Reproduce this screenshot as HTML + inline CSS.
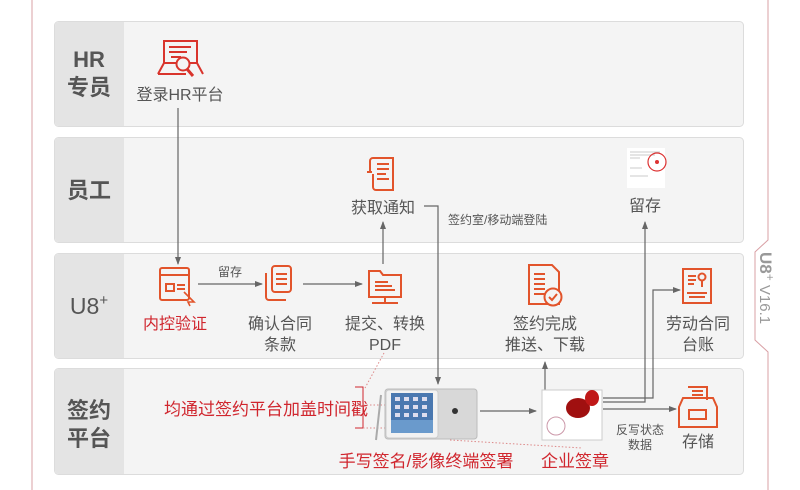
<!DOCTYPE html>
<html><head><meta charset="utf-8"><style>
body{margin:0;background:#fff;}
svg{display:block;font-family:"Liberation Sans","Noto Sans CJK SC",sans-serif;}
</style></head><body>
<svg width="800" height="490" viewBox="0 0 800 490" xmlns="http://www.w3.org/2000/svg">
<defs>
<marker id="ar" markerWidth="8" markerHeight="8" refX="7" refY="4" orient="auto" markerUnits="userSpaceOnUse"><path d="M0,1 L8,4 L0,7 Z" fill="#666"/></marker>
</defs>
<path d="M32,0 V490" stroke="#d9a0a5" stroke-width="1" fill="none"/>
<path d="M768,0 V240 L755,252 V340 L768,352 V490" stroke="#d9a0a5" stroke-width="1" fill="none"/>
<text transform="translate(760,252) rotate(90)" font-size="15" fill="#999"><tspan font-weight="bold" font-size="17">U8</tspan><tspan font-size="12" dy="-6">+</tspan><tspan dy="6"> V16.1</tspan></text>

<g stroke="#dcdcdc" stroke-width="1">
<rect x="54.5" y="21.5" width="689" height="105" rx="4" fill="#f4f4f4"/>
<rect x="54.5" y="137.5" width="689" height="105" rx="4" fill="#f4f4f4"/>
<rect x="54.5" y="253.5" width="689" height="105" rx="4" fill="#f4f4f4"/>
<rect x="54.5" y="368.5" width="689" height="106" rx="4" fill="#f4f4f4"/>
</g>
<g fill="#e4e4e4">
<path d="M55,26 a4,4 0 0 1 4,-4 H124 V126 H59 a4,4 0 0 1 -4,-4Z"/>
<path d="M55,142 a4,4 0 0 1 4,-4 H124 V242 H59 a4,4 0 0 1 -4,-4Z"/>
<path d="M55,258 a4,4 0 0 1 4,-4 H124 V358 H59 a4,4 0 0 1 -4,-4Z"/>
<path d="M55,373 a4,4 0 0 1 4,-4 H124 V474 H59 a4,4 0 0 1 -4,-4Z"/>
</g>
<g font-size="22" font-weight="bold" fill="#555" text-anchor="middle">
<text x="89" y="67">HR</text>
<text x="89" y="95">专员</text>
<text x="89" y="198">员工</text>
<text x="89" y="314" font-weight="normal" font-size="23">U8<tspan font-size="15" dy="-9">+</tspan></text>
<text x="89" y="418">签约</text>
<text x="89" y="446">平台</text>
</g>

<g font-size="16" fill="#555" text-anchor="middle">
<text x="180" y="100">登录HR平台</text>
<text x="383" y="213">获取通知</text>
<text x="645" y="211">留存</text>
<text x="175" y="329" fill="#d0262e">内控验证</text>
<text x="280" y="329">确认合同</text>
<text x="280" y="350">条款</text>
<text x="385" y="329">提交、转换</text>
<text x="385" y="350">PDF</text>
<text x="545" y="329">签约完成</text>
<text x="545" y="350">推送、下载</text>
<text x="698" y="329">劳动合同</text>
<text x="698" y="350">台账</text>
<text x="698" y="447">存储</text>
</g>
<g font-size="12" fill="#555">
<text x="448" y="224">签约室/移动端登陆</text>
<text x="218" y="276">留存</text>
<text x="640" y="434" text-anchor="middle">反写状态</text>
<text x="640" y="449" text-anchor="middle">数据</text>
</g>
<g font-size="17" fill="#d0262e" text-anchor="middle">
<text x="266" y="415">均通过签约平台加盖时间戳</text>
<text x="426" y="467">手写签名/影像终端签署</text>
<text x="575" y="467">企业签章</text>
</g>

<g stroke="#666" stroke-width="1.2" fill="none" marker-end="url(#ar)">
<path d="M178,108 V264"/>
<path d="M198,284 H262"/>
<path d="M303,284 H362"/>
<path d="M383,264 V222"/>
<path d="M424,206 H438 V384"/>
<path d="M480,411 H536"/>
<path d="M545,390 V362"/>
<path d="M603,398 H653 V290 H680"/>
<path d="M603,402 H645 V222"/>
<path d="M603,409 H676"/>
</g>
<path d="M355,387 H363 V428 H355" stroke="#d0262e" stroke-width="1" fill="none"/>
<g stroke="#d88" stroke-width="1" stroke-dasharray="1.5,2" fill="none">
<path d="M384,353 L365,388"/>
<path d="M363,405 H388"/>
<path d="M363,428 H388"/>
<path d="M450,440 L582,448"/>
</g>

<g stroke="#e2542b" stroke-width="2" fill="none">
<path d="M164,41 H197 V63 H164 Z M158,74 L164,63 M203,74 L197,63 M158,74 H186" stroke="#d9342c"/>
<path d="M169,47 H191 M169,52 H187 M171,57 H181" stroke="#d9342c"/>
<circle cx="183" cy="64" r="6.5" stroke="#d9342c" fill="#f4f4f4"/>
<path d="M187,69 L193,76" stroke="#d9342c" stroke-width="3"/>
<path d="M373,158 H393 V190 H376 a3,3 0 0 1 -3,-3 V174 M372,172 H367 M373,158 a3,3 0 0 0 -3,3 V172"/>
<path d="M377,164 H389 M377,169 H389 M377,174 H386 M377,179 H389"/>
<rect x="160" y="268" width="29" height="32" rx="2"/>
<path d="M160,275 H189"/>
<rect x="166" y="284" width="8" height="7"/><path d="M177,285 H185 M177,289 H185"/>
<path d="M184,292 L194,302 L188,302 L190,306" stroke-width="1.6"/>
<rect x="272" y="266" width="19" height="26" rx="3"/>
<path d="M266,273 V297 a3,3 0 0 0 3,3 H286"/>
<path d="M276,274 H287 M276,279 H287 M276,284 H287"/>
<path d="M369,271 H380 L383,275 H401 V297 H369 Z"/>
<path d="M375,282 H388 M375,286 H392 M375,290 H395"/>
<path d="M385,297 V303 M372,303 H398"/>
<path d="M529,265 H552 L559,272 V304 H529 Z"/>
<path d="M534,274 H545 M534,279 H545 M534,284 H545 M534,289 H545 M534,294 H545"/>
<circle cx="553" cy="297" r="8.5" fill="#f4f4f4"/>
<path d="M549,297 L552,300 L557,294"/>
<rect x="683" y="269" width="28" height="34"/>
<path d="M688,276 H696 M688,280 H696 M688,284 H694 M687,293 H707 M689,297 H705"/>
<circle cx="702" cy="277" r="3.5"/><path d="M702,281 V287"/>
<path d="M679,407 L683,398 H713 L717,407 V427 H679 Z"/>
<path d="M688,387 H707 V400 M692,391 H703 M692,395 H703"/>
<rect x="689" y="410" width="17" height="9"/>
</g>

<rect x="627" y="148" width="38" height="40" fill="#fff"/>
<g stroke="#bbb" stroke-width="0.8"><path d="M630,152 H660 M630,155 H655 M630,158 H640 M630,168 H642 M630,176 H648"/></g>
<circle cx="657" cy="162" r="9" fill="none" stroke="#d33" stroke-width="1.2"/>
<circle cx="657" cy="162" r="2" fill="#d33"/>

<path d="M381,395 L376,440" stroke="#aaa" stroke-width="2"/>
<rect x="385" y="389" width="92" height="50" rx="3" fill="#d8d8d8" stroke="#bbb"/>
<rect x="386" y="390" width="52" height="48" rx="3" fill="#f2f2f2" stroke="#ccc"/>
<rect x="391" y="393" width="42" height="40" fill="#4a78b0"/>
<rect x="391" y="420" width="42" height="13" fill="#6a9acc"/>
<g fill="#dde">
<rect x="395" y="397" width="5" height="4"/><rect x="404" y="397" width="5" height="4"/><rect x="413" y="397" width="5" height="4"/><rect x="422" y="397" width="5" height="4"/>
<rect x="395" y="405" width="5" height="4"/><rect x="404" y="405" width="5" height="4"/><rect x="413" y="405" width="5" height="4"/><rect x="422" y="405" width="5" height="4"/>
<rect x="395" y="413" width="5" height="4"/><rect x="404" y="413" width="5" height="4"/><rect x="413" y="413" width="5" height="4"/><rect x="422" y="413" width="5" height="4"/>
</g>
<circle cx="455" cy="411" r="3" fill="#333"/>

<rect x="542" y="390" width="60" height="50" fill="#fff" stroke="#ccc"/>
<circle cx="556" cy="426" r="9" fill="none" stroke="#c9a" stroke-width="1"/>
<ellipse cx="578" cy="408" rx="12" ry="10" fill="#a01010"/>
<ellipse cx="592" cy="398" rx="7" ry="8" fill="#c01818"/>
</svg>
</body></html>
